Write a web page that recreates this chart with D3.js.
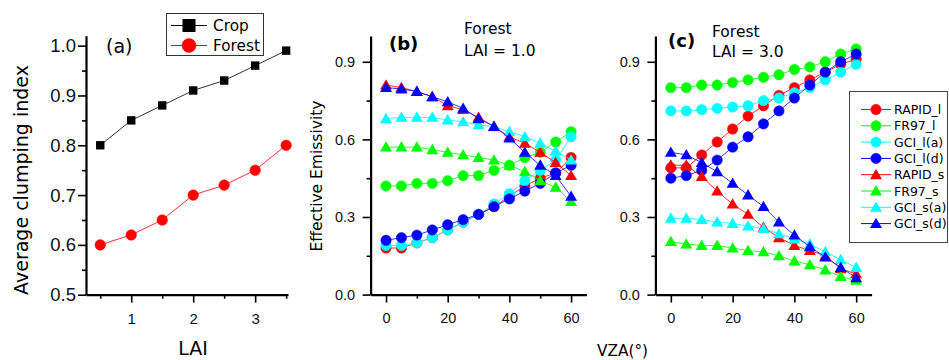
<!DOCTYPE html>
<html>
<head>
<meta charset="utf-8">
<script src="https://cdn.jsdelivr.net/npm/d3@7"></script>
<style>
  body { margin: 0; background: #fff; }
  svg { font-family: "DejaVu Sans", sans-serif; }
</style>
</head>
<body>
<script>
// panel (a) data
const lai = [0.5, 1, 1.5, 2, 2.5, 3, 3.5];
const cropClump = [0.80, 0.85, 0.88, 0.91, 0.93, 0.96, 0.99];
const forestClump = [0.60, 0.62, 0.65, 0.70, 0.72, 0.75, 0.80];

// panels (b) and (c) data
const vza = [0, 5, 10, 15, 20, 25, 30, 35, 40, 45, 50, 55, 60];
const seriesNames = ['RAPID_l', 'FR97_l', 'GCI_l(a)', 'GCI_l(d)', 'RAPID_s', 'FR97_s', 'GCI_s(a)', 'GCI_s(d)'];

// forest, LAI = 1.0
const lai1RapidL = [0.18, 0.18, 0.20, 0.22, 0.25, 0.28, 0.31, 0.34, 0.38, 0.42, 0.45, 0.47, 0.53];
const lai1Fr97L  = [0.42, 0.42, 0.43, 0.43, 0.44, 0.46, 0.46, 0.48, 0.50, 0.53, 0.55, 0.59, 0.63];
const lai1GciLa  = [0.19, 0.19, 0.20, 0.22, 0.25, 0.28, 0.31, 0.35, 0.39, 0.44, 0.48, 0.52, 0.61];
const lai1GciLd  = [0.21, 0.22, 0.23, 0.25, 0.27, 0.29, 0.31, 0.34, 0.37, 0.40, 0.43, 0.47, 0.50];
const lai1RapidS = [0.81, 0.80, 0.785, 0.765, 0.73, 0.715, 0.685, 0.65, 0.61, 0.585, 0.55, 0.51, 0.46];
const lai1Fr97S  = [0.57, 0.57, 0.57, 0.56, 0.55, 0.54, 0.53, 0.52, 0.50, 0.475, 0.44, 0.415, 0.36];
const lai1GciSa  = [0.68, 0.685, 0.685, 0.685, 0.675, 0.668, 0.656, 0.649, 0.63, 0.61, 0.585, 0.555, 0.52];
const lai1GciSd  = [0.80, 0.795, 0.785, 0.765, 0.745, 0.72, 0.68, 0.65, 0.605, 0.55, 0.50, 0.46, 0.38];

// forest, LAI = 3.0
const lai3RapidL = [0.49, 0.49, 0.54, 0.59, 0.64, 0.69, 0.73, 0.77, 0.80, 0.83, 0.86, 0.89, 0.91];
const lai3Fr97L  = [0.80, 0.80, 0.81, 0.81, 0.82, 0.83, 0.84, 0.85, 0.87, 0.88, 0.90, 0.93, 0.95];
const lai3GciLa  = [0.71, 0.71, 0.715, 0.72, 0.725, 0.73, 0.75, 0.76, 0.78, 0.80, 0.83, 0.86, 0.89];
const lai3GciLd  = [0.45, 0.46, 0.48, 0.52, 0.57, 0.61, 0.66, 0.71, 0.76, 0.81, 0.86, 0.90, 0.93];
const lai3RapidS = [0.50, 0.50, 0.456, 0.40, 0.35, 0.31, 0.26, 0.22, 0.19, 0.17, 0.15, 0.10, 0.08];
const lai3Fr97S  = [0.205, 0.195, 0.19, 0.19, 0.18, 0.17, 0.165, 0.15, 0.13, 0.115, 0.095, 0.07, 0.055];
const lai3GciSa  = [0.295, 0.295, 0.29, 0.28, 0.275, 0.265, 0.255, 0.235, 0.215, 0.195, 0.165, 0.135, 0.105];
const lai3GciSd  = [0.55, 0.54, 0.51, 0.475, 0.43, 0.385, 0.34, 0.28, 0.23, 0.185, 0.145, 0.105, 0.065];

const seriesColors = ['#ff0000', '#00ff00', '#00ffff', '#0000ff', '#ff0000', '#00ff00', '#00ffff', '#0000ff'];

const w = 949, h = 360;
const svg = d3.select('body').append('svg').attr('width', w).attr('height', h);

function drawAxes(g, x, y, o) {
  const xb = y.range()[0], yl = x.range()[0];
  // minor ticks first
  g.append('g').attr('transform', 'translate(0,' + xb + ')')
    .call(d3.axisBottom(x).tickValues(o.xMinor).tickSize(4).tickFormat('').tickSizeOuter(0))
    .call(s => s.select('.domain').remove());
  g.append('g').attr('transform', 'translate(' + yl + ',0)')
    .call(d3.axisLeft(y).tickValues(o.yMinor).tickSize(4).tickFormat('').tickSizeOuter(0))
    .call(s => s.select('.domain').remove());
  const xa = g.append('g').attr('transform', 'translate(0,' + xb + ')')
    .call(d3.axisBottom(x).tickValues(o.xMajor).tickSize(8).tickPadding(o.xPad).tickSizeOuter(0).tickFormat(o.xFmt));
  const ya = g.append('g').attr('transform', 'translate(' + yl + ',0)')
    .call(d3.axisLeft(y).tickValues(o.yMajor).tickSize(8).tickPadding(o.yPad).tickSizeOuter(0).tickFormat(d3.format('.1f')));
  xa.selectAll('text').style('font-size', o.xFont + 'px').attr('fill', '#111');
  ya.selectAll('text').style('font-size', o.yFont + 'px').attr('fill', '#111');
  g.selectAll('.tick line').attr('stroke', '#000').attr('stroke-width', 1.6);
  g.selectAll('.domain').attr('stroke', '#000').attr('stroke-width', 2.2);
  g.selectAll('text').attr('font-family', null);
}

function marker(sel, shape, color, size) {
  if (shape === 'circle') {
    sel.append('circle').attr('r', size).attr('fill', color).attr('stroke', color).attr('stroke-width', 0.5);
  } else if (shape === 'square') {
    sel.append('rect').attr('x', -size).attr('y', -size).attr('width', size * 2).attr('height', size * 2).attr('fill', color);
  } else {
    sel.append('path').attr('d', d3.symbol(d3.symbolTriangle).size(size)()).attr('fill', color)
      .attr('transform', 'translate(0,1)');
  }
}

function drawSeries(g, x, y, xs, ys, color, shape, size) {
  const line = d3.line().x((d, i) => x(xs[i])).y(d => y(d));
  g.append('path').datum(ys).attr('d', line).attr('fill', 'none').attr('stroke', color).attr('stroke-width', 0.8);
  g.selectAll(null).data(ys).enter().append('g')
    .attr('transform', (d, i) => 'translate(' + x(xs[i]) + ',' + y(d) + ')')
    .each(function () { marker(d3.select(this), shape, color, size); });
}

// ---------- panel (a) ----------
const xA = d3.scaleLinear().domain([0.27, 3.53]).range([86, 288]);
const yA = d3.scaleLinear().domain([0.5, 1.02]).range([294.7, 35.7]);
const gA = svg.append('g');
drawAxes(gA, xA, yA, {
  xMajor: [1, 2, 3], xMinor: [0.5, 1.5, 2.5, 3.5], yMajor: [0.5, 0.6, 0.7, 0.8, 0.9, 1.0], yMinor: [0.55, 0.65, 0.75, 0.85, 0.95],
  xPad: 11, yPad: 2, xFont: 15, yFont: 18.5, xFmt: d3.format('d')
});
drawSeries(gA, xA, yA, lai, cropClump, '#000', 'square', 4.2);
drawSeries(gA, xA, yA, lai, forestClump, '#ff0000', 'circle', 5.3);

svg.append('text').text('(a)').attr('x', 106).attr('y', 53).style('font-size', '19px');
svg.append('text').text('LAI').attr('x', 193).attr('y', 355).attr('text-anchor', 'middle').style('font-size', '19px');
svg.append('text').text('Average clumping index').attr('text-anchor', 'middle')
  .attr('transform', 'translate(28,180) rotate(-90)').style('font-size', '19px');

// legend (a)
const legA = svg.append('g');
legA.append('rect').attr('x', 166.5).attr('y', 13.5).attr('width', 97).attr('height', 42)
  .attr('fill', '#fff').attr('stroke', '#333').attr('stroke-width', 1);
[['Crop', '#000', 'square', 6.5], ['Forest', '#ff0000', 'circle', 7]].forEach((e, i) => {
  const cy = 25.5 + i * 20;
  legA.append('line').attr('x1', 171).attr('x2', 207).attr('y1', cy).attr('y2', cy).attr('stroke', e[1]).attr('stroke-width', 1);
  const m = legA.append('g').attr('transform', 'translate(189,' + cy + ')');
  marker(m, e[2], e[1], e[3]);
  legA.append('text').text(e[0]).attr('x', 213).attr('y', cy + 5.5).style('font-size', '15.3px');
});

// ---------- panels (b) and (c) ----------
const shapes = ['circle', 'circle', 'circle', 'circle', 'tri', 'tri', 'tri', 'tri'];
const yE = d3.scaleLinear().domain([0, 1.0]).range([294.6, 35.9]);
const vzaOpts = {
  xMajor: [0, 20, 40, 60], xMinor: [10, 30, 50], yMajor: [0, 0.3, 0.6, 0.9], yMinor: [0.15, 0.45, 0.75],
  xPad: 10, yPad: 7.5, xFont: 14.5, yFont: 14.5, xFmt: d3.format('d')
};

const xB = d3.scaleLinear().domain([-5, 65]).range([370.6, 586.5]);
const gB = svg.append('g');
drawAxes(gB, xB, yE, vzaOpts);
[lai1RapidL, lai1Fr97L, lai1GciLa, lai1GciLd, lai1RapidS, lai1Fr97S, lai1GciSa, lai1GciSd].forEach((s, i) => {
  drawSeries(gB, xB, yE, vza, s, seriesColors[i], shapes[i], shapes[i] === 'circle' ? 5.2 : 62);
});
svg.append('text').text('(b)').attr('x', 389).attr('y', 50).style('font-size', '18px').style('font-weight', 'bold');
svg.append('text').text('Forest').attr('x', 464).attr('y', 34).style('font-size', '15.5px');
svg.append('text').text('LAI = 1.0').attr('x', 464).attr('y', 56).style('font-size', '15.5px');
svg.append('text').text('Effective Emissivity').attr('text-anchor', 'middle')
  .attr('transform', 'translate(322,176) rotate(-90)').style('font-size', '15.5px');
svg.append('text').text('VZA(°)').attr('x', 597).attr('y', 356).style('font-size', '15.3px');

const xC = d3.scaleLinear().domain([-5, 65]).range([655.4, 871.6]);
const gC = svg.append('g');
drawAxes(gC, xC, yE, vzaOpts);
[lai3RapidL, lai3Fr97L, lai3GciLa, lai3GciLd, lai3RapidS, lai3Fr97S, lai3GciSa, lai3GciSd].forEach((s, i) => {
  drawSeries(gC, xC, yE, vza, s, seriesColors[i], shapes[i], shapes[i] === 'circle' ? 5.2 : 62);
});
svg.append('text').text('(c)').attr('x', 668).attr('y', 47).style('font-size', '18px').style('font-weight', 'bold');
svg.append('text').text('Forest').attr('x', 712).attr('y', 37).style('font-size', '15.5px');
svg.append('text').text('LAI = 3.0').attr('x', 712).attr('y', 57).style('font-size', '15.5px');

// legend (c)
const legC = svg.append('g');
legC.append('rect').attr('x', 849.5).attr('y', 91.5).attr('width', 98).attr('height', 151)
  .attr('fill', '#fff').attr('stroke', '#444').attr('stroke-width', 1);
seriesNames.forEach((n, i) => {
  const cy = 109.5 + i * 16.3;
  legC.append('line').attr('x1', 861).attr('x2', 891).attr('y1', cy).attr('y2', cy).attr('stroke', seriesColors[i]).attr('stroke-width', 1);
  const m = legC.append('g').attr('transform', 'translate(876,' + cy + ')');
  marker(m, shapes[i], seriesColors[i], shapes[i] === 'circle' ? 5.2 : 62);
  legC.append('text').text(n).attr('x', 894).attr('y', cy + 4.5).style('font-size', '12.5px');
});
</script>
</body>
</html>
